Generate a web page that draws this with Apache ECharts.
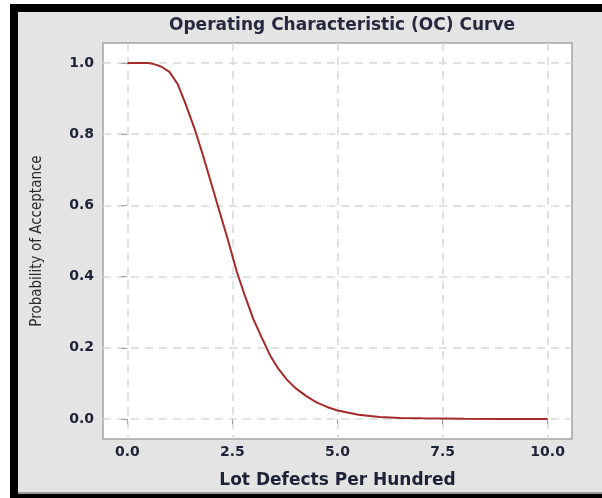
<!DOCTYPE html>
<html>
<head>
<meta charset="utf-8">
<script src="https://cdn.jsdelivr.net/npm/echarts@6/dist/echarts.min.js"></script>
<style>
html,body{margin:0;padding:0;background:#fff;}
#chart{width:602px;height:498px;}
</style>
</head>
<body>
<div id="chart"></div>
<script>
// Lot defects per hundred (x) and probability of acceptance (y)
var defects = [0, 0.25, 0.5, 0.6, 0.8, 1.0, 1.2, 1.4, 1.6, 1.8, 2.0, 2.2, 2.4, 2.6, 2.8, 3.0, 3.2, 3.4, 3.6, 3.8, 4.0, 4.25, 4.5, 4.75, 5.0, 5.5, 6.0, 6.5, 7.0, 8.0, 9.0, 10.0];
var pAccept = [1.0, 1.0, 1.0, 0.998, 0.99, 0.975, 0.94, 0.88, 0.815, 0.74, 0.66, 0.58, 0.50, 0.415, 0.345, 0.28, 0.228, 0.178, 0.14, 0.11, 0.087, 0.065, 0.047, 0.034, 0.024, 0.012, 0.006, 0.003, 0.002, 0.001, 0.0005, 0.0003];
var xTicks = [0, 2.5, 5, 7.5, 10];
var yTicks = [0, 0.2, 0.4, 0.6, 0.8, 1.0];

var pts = defects.map(function (d, i) { return [d, pAccept[i]]; });
var chart = echarts.init(document.getElementById('chart'));
var labelFont = {fontFamily: '"DejaVu Sans", sans-serif', fontWeight: 'bold', fontSize: 14, color: '#1d2236'};
chart.setOption({
  backgroundColor: '#e4e4e4',
  animation: false,
  title: {
    text: 'Operating Characteristic (OC) Curve',
    left: 337, top: 12, textAlign: 'center',
    textStyle: {fontFamily: '"DejaVu Sans", sans-serif', fontWeight: 'bold', fontSize: 17, color: '#26283e'}
  },
  grid: {left: 103, top: 43, right: 30, bottom: 59, show: true, backgroundColor: '#ffffff', borderColor: '#a3a3a3', borderWidth: 1.5},
  xAxis: {
    type: 'value', min: -0.58, max: 10.58,
    name: 'Lot Defects Per Hundred', nameLocation: 'middle', nameGap: 33,
    nameTextStyle: {fontFamily: '"DejaVu Sans", sans-serif', fontWeight: 'bold', fontSize: 17, color: '#1d2236'},
    axisLine: {show: false},
    axisTick: {show: true, customValues: xTicks, length: 5, lineStyle: {color: '#a3a3a3'}},
    axisLabel: Object.assign({customValues: xTicks, margin: 6, formatter: function (v) { return v.toFixed(1); }}, labelFont),
    splitLine: {show: true, lineStyle: {color: '#d9d9d9', type: [8, 6], width: 1.5}}
  },
  yAxis: {
    type: 'value', min: -0.056, max: 1.056,
    name: 'Probability of Acceptance', nameLocation: 'middle', nameGap: 58, nameRotate: 90,
    nameTextStyle: {fontFamily: '"DejaVu Sans Condensed", "Liberation Sans Narrow", sans-serif', fontSize: 15, color: '#2a2a2a'},
    axisLine: {show: false},
    axisTick: {show: true, customValues: yTicks, length: 6, lineStyle: {color: '#a3a3a3'}},
    axisLabel: Object.assign({customValues: yTicks, margin: 9, formatter: function (v) { return v.toFixed(1); }}, labelFont),
    splitLine: {show: true, lineStyle: {color: '#d9d9d9', type: [8, 6], width: 1.5}}
  },
  series: [{
    type: 'line', data: pts, showSymbol: false, smooth: false,
    lineStyle: {color: '#a52a2a', width: 2}
  }],
  graphic: [
    {type: 'rect', silent: true, shape: {x: 0, y: 0, width: 602, height: 4}, style: {fill: '#ffffff'}},
    {type: 'rect', silent: true, shape: {x: 0, y: 0, width: 10, height: 498}, style: {fill: '#ffffff'}},
    {type: 'rect', silent: true, shape: {x: 10, y: 4, width: 592, height: 8}, style: {fill: '#000000'}},
    {type: 'rect', silent: true, shape: {x: 10, y: 4, width: 8, height: 494}, style: {fill: '#000000'}},
    {type: 'rect', silent: true, shape: {x: 18, y: 492, width: 584, height: 2}, style: {fill: '#9a9a9a'}},
    {type: 'rect', silent: true, shape: {x: 10, y: 494, width: 592, height: 4}, style: {fill: '#000000'}}
  ]
});
</script>
</body>
</html>
